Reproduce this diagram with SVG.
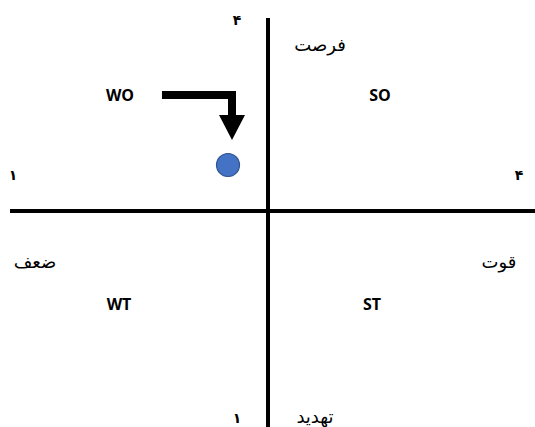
<svg xmlns="http://www.w3.org/2000/svg" width="535" height="427" viewBox="0 0 535 427">
  <style>
    .axis { stroke: #000; stroke-width: 4; }
    .code { font-family: "Open Sans", "Liberation Sans", sans-serif; font-weight: bold; font-size: 16px; fill: #000; }
    .fa { font-family: "DejaVu Serif", "DejaVu Sans", serif; font-size: 18px; fill: #000; }
    .num { font-family: "DejaVu Sans", sans-serif; font-weight: bold; font-size: 14px; fill: #000; }
  </style>
  <rect width="535" height="427" fill="#fff"/>
  <g id="connectors">
    <line class="axis" x1="268" y1="18" x2="268" y2="427"/>
    <line class="axis" x1="10" y1="211" x2="535" y2="211"/>
    <!-- bent arrow pointing to the position marker -->
    <polygon points="162,91 236,91 236,115 245,115 232,140 219,115 228,115 228,99 162,99" fill="#000"/>
  </g>
  <g id="marker">
    <circle cx="228" cy="165" r="11.5" fill="#4472C4" stroke="#2F528F" stroke-width="1.2"/>
  </g>
  <g id="quadrant-wo"><text class="code" x="120" y="101" text-anchor="middle">WO</text></g>
  <g id="quadrant-so"><text class="code" x="380" y="101" text-anchor="middle">SO</text></g>
  <g id="quadrant-wt"><text class="code" x="119" y="310" text-anchor="middle">WT</text></g>
  <g id="quadrant-st"><text class="code" x="372" y="310" text-anchor="middle">ST</text></g>
  <g id="labels">
    <text class="fa" x="320" y="51" text-anchor="middle" direction="rtl">فرصت</text>
    <text class="fa" x="35" y="268" text-anchor="middle" direction="rtl">ضعف</text>
    <text class="fa" x="499" y="268" text-anchor="middle" direction="rtl">قوت</text>
    <text class="fa" x="315" y="423" text-anchor="middle" direction="rtl">تهدید</text>
    <text class="num" x="237" y="25" text-anchor="middle">۴</text>
    <text class="num" x="13" y="180" text-anchor="middle">۱</text>
    <text class="num" x="519" y="180" text-anchor="middle">۴</text>
    <text class="num" x="237" y="423" text-anchor="middle">۱</text>
  </g>
</svg>
